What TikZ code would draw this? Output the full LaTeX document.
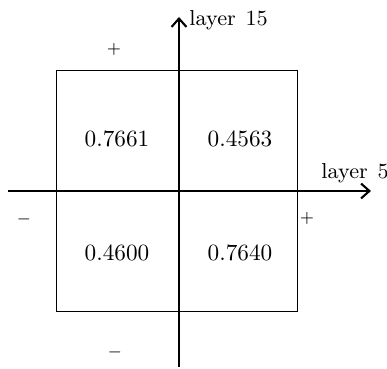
\documentclass[tikz,border=0pt]{standalone}
\usetikzlibrary{arrows.meta}
\begin{document}
\begin{tikzpicture}[x=0.43pt,y=-0.43pt,
  axis/.style={line width=0.7pt,-{Straight Barb[length=3.6pt,width=6.4pt,line width=0.9pt]}},
  boxline/.style={line width=0.6pt},
  lbl/.style={inner sep=0pt,font=\normalsize},
  sgn/.style={inner sep=0pt,font=\fontsize{7}{8}\selectfont},
  axlbl/.style={inner sep=0pt,font=\fontsize{9.3}{11}\selectfont}]
\useasboundingbox (0,0) rectangle (387,369);
% box
\coordinate (bl) at (56.7,311.3);
\coordinate (tr) at (297.7,70.7);
\draw[boxline] (bl) rectangle (tr);
% axes
\coordinate (xs) at (8,191);
\coordinate (xe) at (371,191);
\coordinate (ys) at (179,367);
\coordinate (ye) at (179,17);
\draw[axis] (xs) -- (xe);
\draw[axis] (ys) -- (ye);
% axis labels
\node[axlbl,anchor=west] (l15) at (189,20) {layer\hspace{0.45em}15};
\node[axlbl,anchor=west] (l5) at (321,173) {layer\hspace{0.45em}5};
% signs
\node[sgn] (ptop) at (114,49) {$+$};
\node[sgn] (pright) at (307,218) {$+$};
\node[sgn] (mleft) at (24,219) {$-$};
\node[sgn] (mbot) at (115,352) {$-$};
% values
\node[lbl] (v1) at (117,139) {0.7661};
\node[lbl] (v2) at (240,139) {0.4563};
\node[lbl] (v3) at (117,253) {0.4600};
\node[lbl] (v4) at (240,253) {0.7640};
\end{tikzpicture}
\end{document}
